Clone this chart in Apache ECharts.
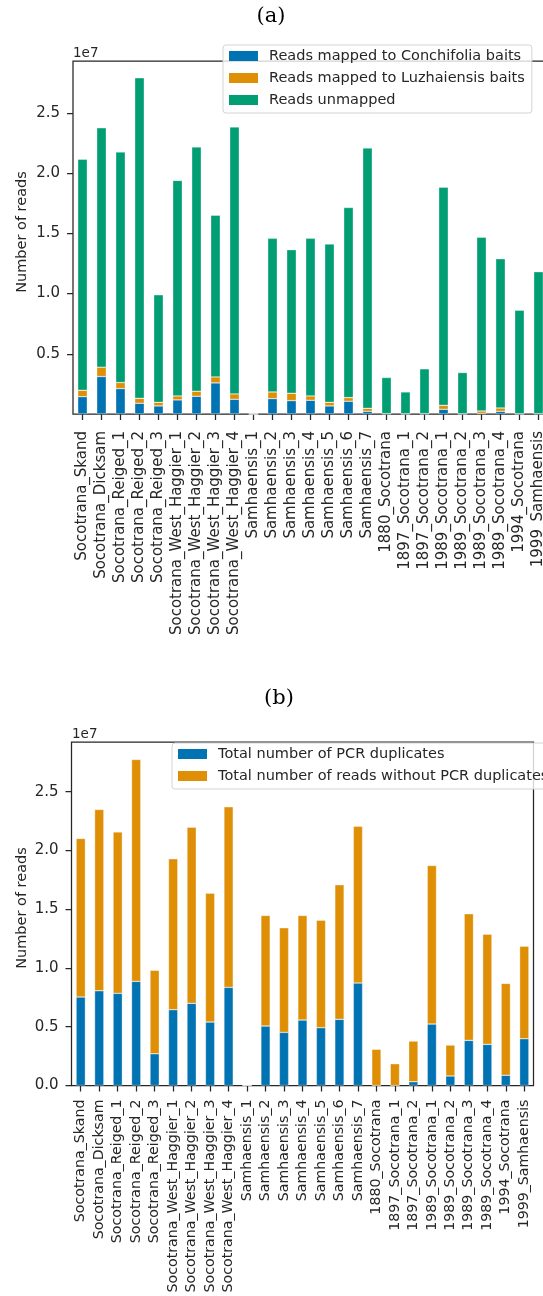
<!DOCTYPE html>
<html>
<head>
<meta charset="utf-8">
<script src="https://cdn.jsdelivr.net/npm/echarts@6/dist/echarts.min.js"></script>
<style>
html,body{margin:0;padding:0;background:#fff;}
#chart{width:543px;height:1296px;}
</style>
</head>
<body>
<div id="chart"></div>
<script>
// ---- data (values in millions of reads) ----
const categories = [
  'Socotrana_Skand','Socotrana_Dicksam','Socotrana_Reiged_1','Socotrana_Reiged_2','Socotrana_Reiged_3',
  'Socotrana_West_Haggier_1','Socotrana_West_Haggier_2','Socotrana_West_Haggier_3','Socotrana_West_Haggier_4',
  'Samhaensis_1','Samhaensis_2','Samhaensis_3','Samhaensis_4','Samhaensis_5','Samhaensis_6','Samhaensis_7',
  '1880_Socotrana','1897_Socotrana_1','1897_Socotrana_2','1989_Socotrana_1','1989_Socotrana_2',
  '1989_Socotrana_3','1989_Socotrana_4','1994_Socotrana','1999_Samhaensis'
];
const mappedConchifolia = [1.44,3.11,2.11,0.89,0.67,1.17,1.47,2.58,1.22,0,1.28,1.11,1.14,0.67,1.06,0.22,0.02,0.01,0.02,0.39,0.01,0.05,0.22,0.01,0.02];
const mappedLuzhaiensis = [0.53,0.78,0.50,0.41,0.30,0.33,0.42,0.50,0.45,0,0.55,0.61,0.36,0.30,0.30,0.25,0.01,0.01,0.01,0.33,0.01,0.20,0.28,0.01,0.01];
const readsUnmapped     = [19.17,19.86,19.14,26.6,8.92,17.89,20.28,13.42,22.16,0,12.75,11.92,13.08,13.14,15.78,21.61,3.0,1.81,3.72,18.11,3.42,14.42,12.39,8.59,11.78];

const pcrDuplicates     = [7.53,8.06,7.84,8.86,2.70,6.45,6.99,5.40,8.35,0,5.06,4.52,5.57,4.92,5.63,8.72,0,0,0.32,5.23,0.81,3.84,3.50,0.87,3.98];
const withoutDuplicates = [13.49,15.43,13.74,18.88,7.10,12.84,14.99,10.97,15.36,0,9.41,8.90,8.90,9.15,11.45,13.35,3.08,1.85,3.46,13.49,2.63,10.77,9.38,7.82,7.88];

const yTicksA = [5e6,10e6,15e6,20e6,25e6];
const yTicksB = [0,5e6,10e6,15e6,20e6,25e6];
const yMaxA = 2.93e7, yMaxB = 2.923e7;

const namesA = ['Reads mapped to Conchifolia baits','Reads mapped to Luzhaiensis baits','Reads unmapped'];
const namesB = ['Total number of PCR duplicates','Total number of reads without PCR duplicates'];
const BLUE='#0173B2', ORANGE='#DE8F05', GREEN='#029E73';
const TXT='#262626';

const toReads = arr => arr.map(v => v*1e6);

function xAxisCfg(gi, fs, margin){
  return {
    type:'category', gridIndex:gi, data:categories,
    axisLine:{show:false},
    axisTick:{show:true, alignWithLabel:true, length:6, lineStyle:{color:TXT,width:1.25}},
    axisLabel:{rotate:90, interval:0, fontSize:fs, color:TXT, margin:margin, fontFamily:'DejaVu Sans'}
  };
}
function yAxisCfg(gi, max, ticks){
  return {
    type:'value', gridIndex:gi, min:0, max:max,
    splitLine:{show:false},
    axisLine:{show:false},
    axisTick:{show:true, length:6, lineStyle:{color:TXT,width:1.25}, customValues:ticks},
    axisLabel:{fontSize:15, color:TXT, margin:13, fontFamily:'DejaVu Sans', customValues:ticks,
      formatter: v => (v/1e7).toFixed(1)}
  };
}
function legendCfg(left, top, names){
  return {
    left:left, top:top, orient:'vertical', data:names, icon:'rect',
    itemWidth:29, itemHeight:10, itemGap:6,
    padding:[3,7,5,6],
    backgroundColor:'rgba(255,255,255,0.8)', borderColor:'#d4d4d4', borderWidth:1, borderRadius:3,
    itemStyle:{borderWidth:0},
    textStyle:{fontSize:14.5, lineHeight:16, color:TXT, fontFamily:'DejaVu Sans', padding:[0,0,0,6]},
    selectedMode:false
  };
}
function barSeries(name, data, color, stack, gi){
  return {
    type:'bar', name:name, stack:stack, xAxisIndex:gi, yAxisIndex:gi,
    data:toReads(data), barWidth:'50%',
    itemStyle:{color:color, borderColor:'rgba(255,255,255,0.7)', borderWidth:0.5},
    emphasis:{disabled:true}
  };
}

const chart = echarts.init(document.getElementById('chart'), null, {renderer:'canvas'});
chart.setOption({
  animation:false,
  backgroundColor:'#fff',
  title:[
    {text:'(a)', left:271, top:6, textAlign:'center', padding:0,
     textStyle:{fontFamily:'DejaVu Serif', fontSize:21, fontWeight:'normal', color:'#000'}},
    {text:'(b)', left:279, top:688, textAlign:'center', padding:0,
     textStyle:{fontFamily:'DejaVu Serif', fontSize:21, fontWeight:'normal', color:'#000'}}
  ],
  grid:[
    {left:73, top:61, width:475, height:353, show:true, borderColor:TXT, borderWidth:1.25,
     containLabel:false, outerBoundsMode:'none'},
    {left:71.5, top:742, width:462, height:343.5, show:true, borderColor:TXT, borderWidth:1.25,
     containLabel:false, outerBoundsMode:'none'}
  ],
  xAxis:[xAxisCfg(0, 15, 17), xAxisCfg(1, 14.2, 14)],
  yAxis:[yAxisCfg(0, yMaxA, yTicksA), yAxisCfg(1, yMaxB, yTicksB)],
  legend:[legendCfg(223, 45, namesA), legendCfg(172, 743, namesB)],
  series:[
    barSeries(namesA[0], mappedConchifolia, BLUE, 'a', 0),
    barSeries(namesA[1], mappedLuzhaiensis, ORANGE, 'a', 0),
    barSeries(namesA[2], readsUnmapped, GREEN, 'a', 0),
    barSeries(namesB[0], pcrDuplicates, BLUE, 'b', 1),
    barSeries(namesB[1], withoutDuplicates, ORANGE, 'b', 1)
  ],
  graphic:[
    {type:'text', x:22, y:232, rotation:Math.PI/2,
     style:{text:'Number of reads', fontSize:14.5, fill:TXT, fontFamily:'DejaVu Sans', textAlign:'center', textVerticalAlign:'middle'}},
    {type:'text', x:22, y:908, rotation:Math.PI/2,
     style:{text:'Number of reads', fontSize:14.5, fill:TXT, fontFamily:'DejaVu Sans', textAlign:'center', textVerticalAlign:'middle'}},
    {type:'text', x:73, y:53,
     style:{text:'1e7', fontSize:13.5, fill:TXT, fontFamily:'DejaVu Sans', textAlign:'left', textVerticalAlign:'middle'}},
    {type:'text', x:72, y:734,
     style:{text:'1e7', fontSize:13.5, fill:TXT, fontFamily:'DejaVu Sans', textAlign:'left', textVerticalAlign:'middle'}}
  ]
});
</script>
</body>
</html>
